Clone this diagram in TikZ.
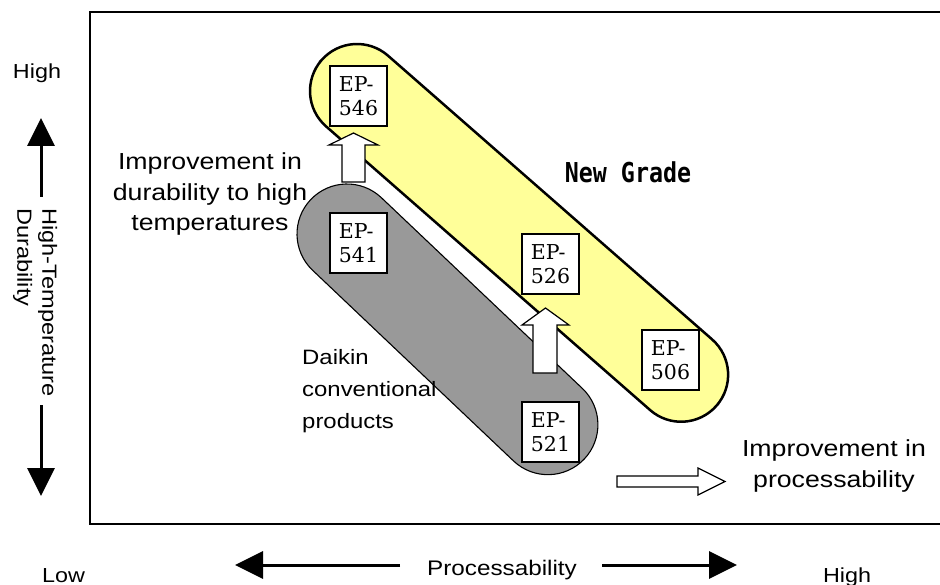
\documentclass[tikz,border=0pt]{standalone}
\usepackage{fontspec}
\newfontfamily\arialS[FakeStretch=1.15]{Liberation Sans}
\newfontfamily\gothic[FakeStretch=0.85]{DejaVu Sans Mono}
\newfontfamily\epfont{DejaVu Serif}
\usetikzlibrary{arrows.meta}
\definecolor{capyellow}{HTML}{FFFF99}
\definecolor{capgray}{HTML}{999999}
\begin{document}
\begin{tikzpicture}[x=1pt,y=-1pt,
  epbox/.style={draw=black, line width=1.2pt, fill=white, minimum width=57pt, minimum height=60pt,
    inner sep=0pt, align=left, font=\epfont\fontsize{20.5}{24}\selectfont},
  sans/.style={inner sep=0pt, font=\arialS\fontsize{#1}{#1}\selectfont},
  blockarrow/.style={draw=black, line width=1.2pt, fill=white, line join=miter},
  axisarrow/.style={line width=3pt, -{Triangle[length=28pt,width=27pt]}}]
\useasboundingbox (0,0) rectangle (940,585);
\fill[white] (0,0) rectangle (940,585);
% frame
\draw[line width=1.5pt] (941,12) -- (90,12) -- (90,524) -- (941,524);
% capsules
\begin{scope}[shift={(347,234)}, rotate=-43.5]
  \draw[fill=capgray, line width=1.1pt, rounded corners=50pt] (-50,-50) rectangle (327,50);
\end{scope}
\begin{scope}[shift={(357,91)}, rotate=-41.2]
  \draw[fill=capyellow, line width=2.5pt, rounded corners=47pt] (-47,-47) rectangle (477.8,47);
\end{scope}
% block arrows
\draw[blockarrow] (342,182) -- (342,145) -- (329,145) -- (353.5,133) -- (378,145) -- (365,145) -- (365,182) -- cycle;
\draw[blockarrow] (533,373) -- (533,325) -- (522,325) -- (545.5,308) -- (569,325) -- (557,325) -- (557,373) -- cycle;
\draw[blockarrow] (617,476) -- (698,476) -- (698,468) -- (725,481.5) -- (698,495) -- (698,487) -- (617,487) -- cycle;
% EP boxes
\node[epbox] (ep546) at (358.5,96) {EP-\\546};
\node[epbox] (ep541) at (358.5,243) {EP-\\541};
\node[epbox] (ep526) at (550.5,264) {EP-\\526};
\node[epbox] (ep506) at (670.5,360) {EP-\\506};
\node[epbox] (ep521) at (550.5,432) {EP-\\521};
% labels
\node[inner sep=0pt, anchor=base, font=\gothic\bfseries\fontsize{27.4}{28}\selectfont] (newgrade) at (628,183) {New Grade};
\node[sans=23.2, align=center, anchor=north, font=\arialS\fontsize{23.2}{30.7}\selectfont] (imphigh) at (210,152.4)
  {Improvement in\\durability to high\\temperatures};
\node[sans=20.8, align=left, anchor=north west, font=\arialS\fontsize{20.8}{32}\selectfont] (daikin) at (302,349)
  {Daikin\\conventional\\products};
\node[sans=23.2, align=center, anchor=north, font=\arialS\fontsize{23.2}{31}\selectfont] (impproc) at (834,439.4)
  {Improvement in\\processability};
\node[sans=20.3, anchor=base] (hightl) at (37,79) {High};
\node[sans=20.3, anchor=base] (low) at (63.5,582) {Low};
\node[sans=20.3, anchor=base] (highbr) at (847,582) {High};
\node[sans=21.1, anchor=base] (proc) at (502,575) {Processability};
\node[sans=20.5, rotate=-90, align=left, anchor=north west, font=\arialS\fontsize{20.5}{25}\selectfont] (durab) at (57.5,208)
  {High-Temperature\\Durability};
% axis arrows
\coordinate (vupS) at (41,197);
\coordinate (vupE) at (41,118);
\coordinate (vdnS) at (41,405);
\coordinate (vdnE) at (41,496);
\coordinate (hlS) at (400,565);
\coordinate (hlE) at (235,565);
\coordinate (hrS) at (602,565);
\coordinate (hrE) at (737,565);
\draw[axisarrow] (vupS) -- (vupE);
\draw[axisarrow] (vdnS) -- (vdnE);
\draw[axisarrow] (hlS) -- (hlE);
\draw[axisarrow] (hrS) -- (hrE);
\end{tikzpicture}
\end{document}
